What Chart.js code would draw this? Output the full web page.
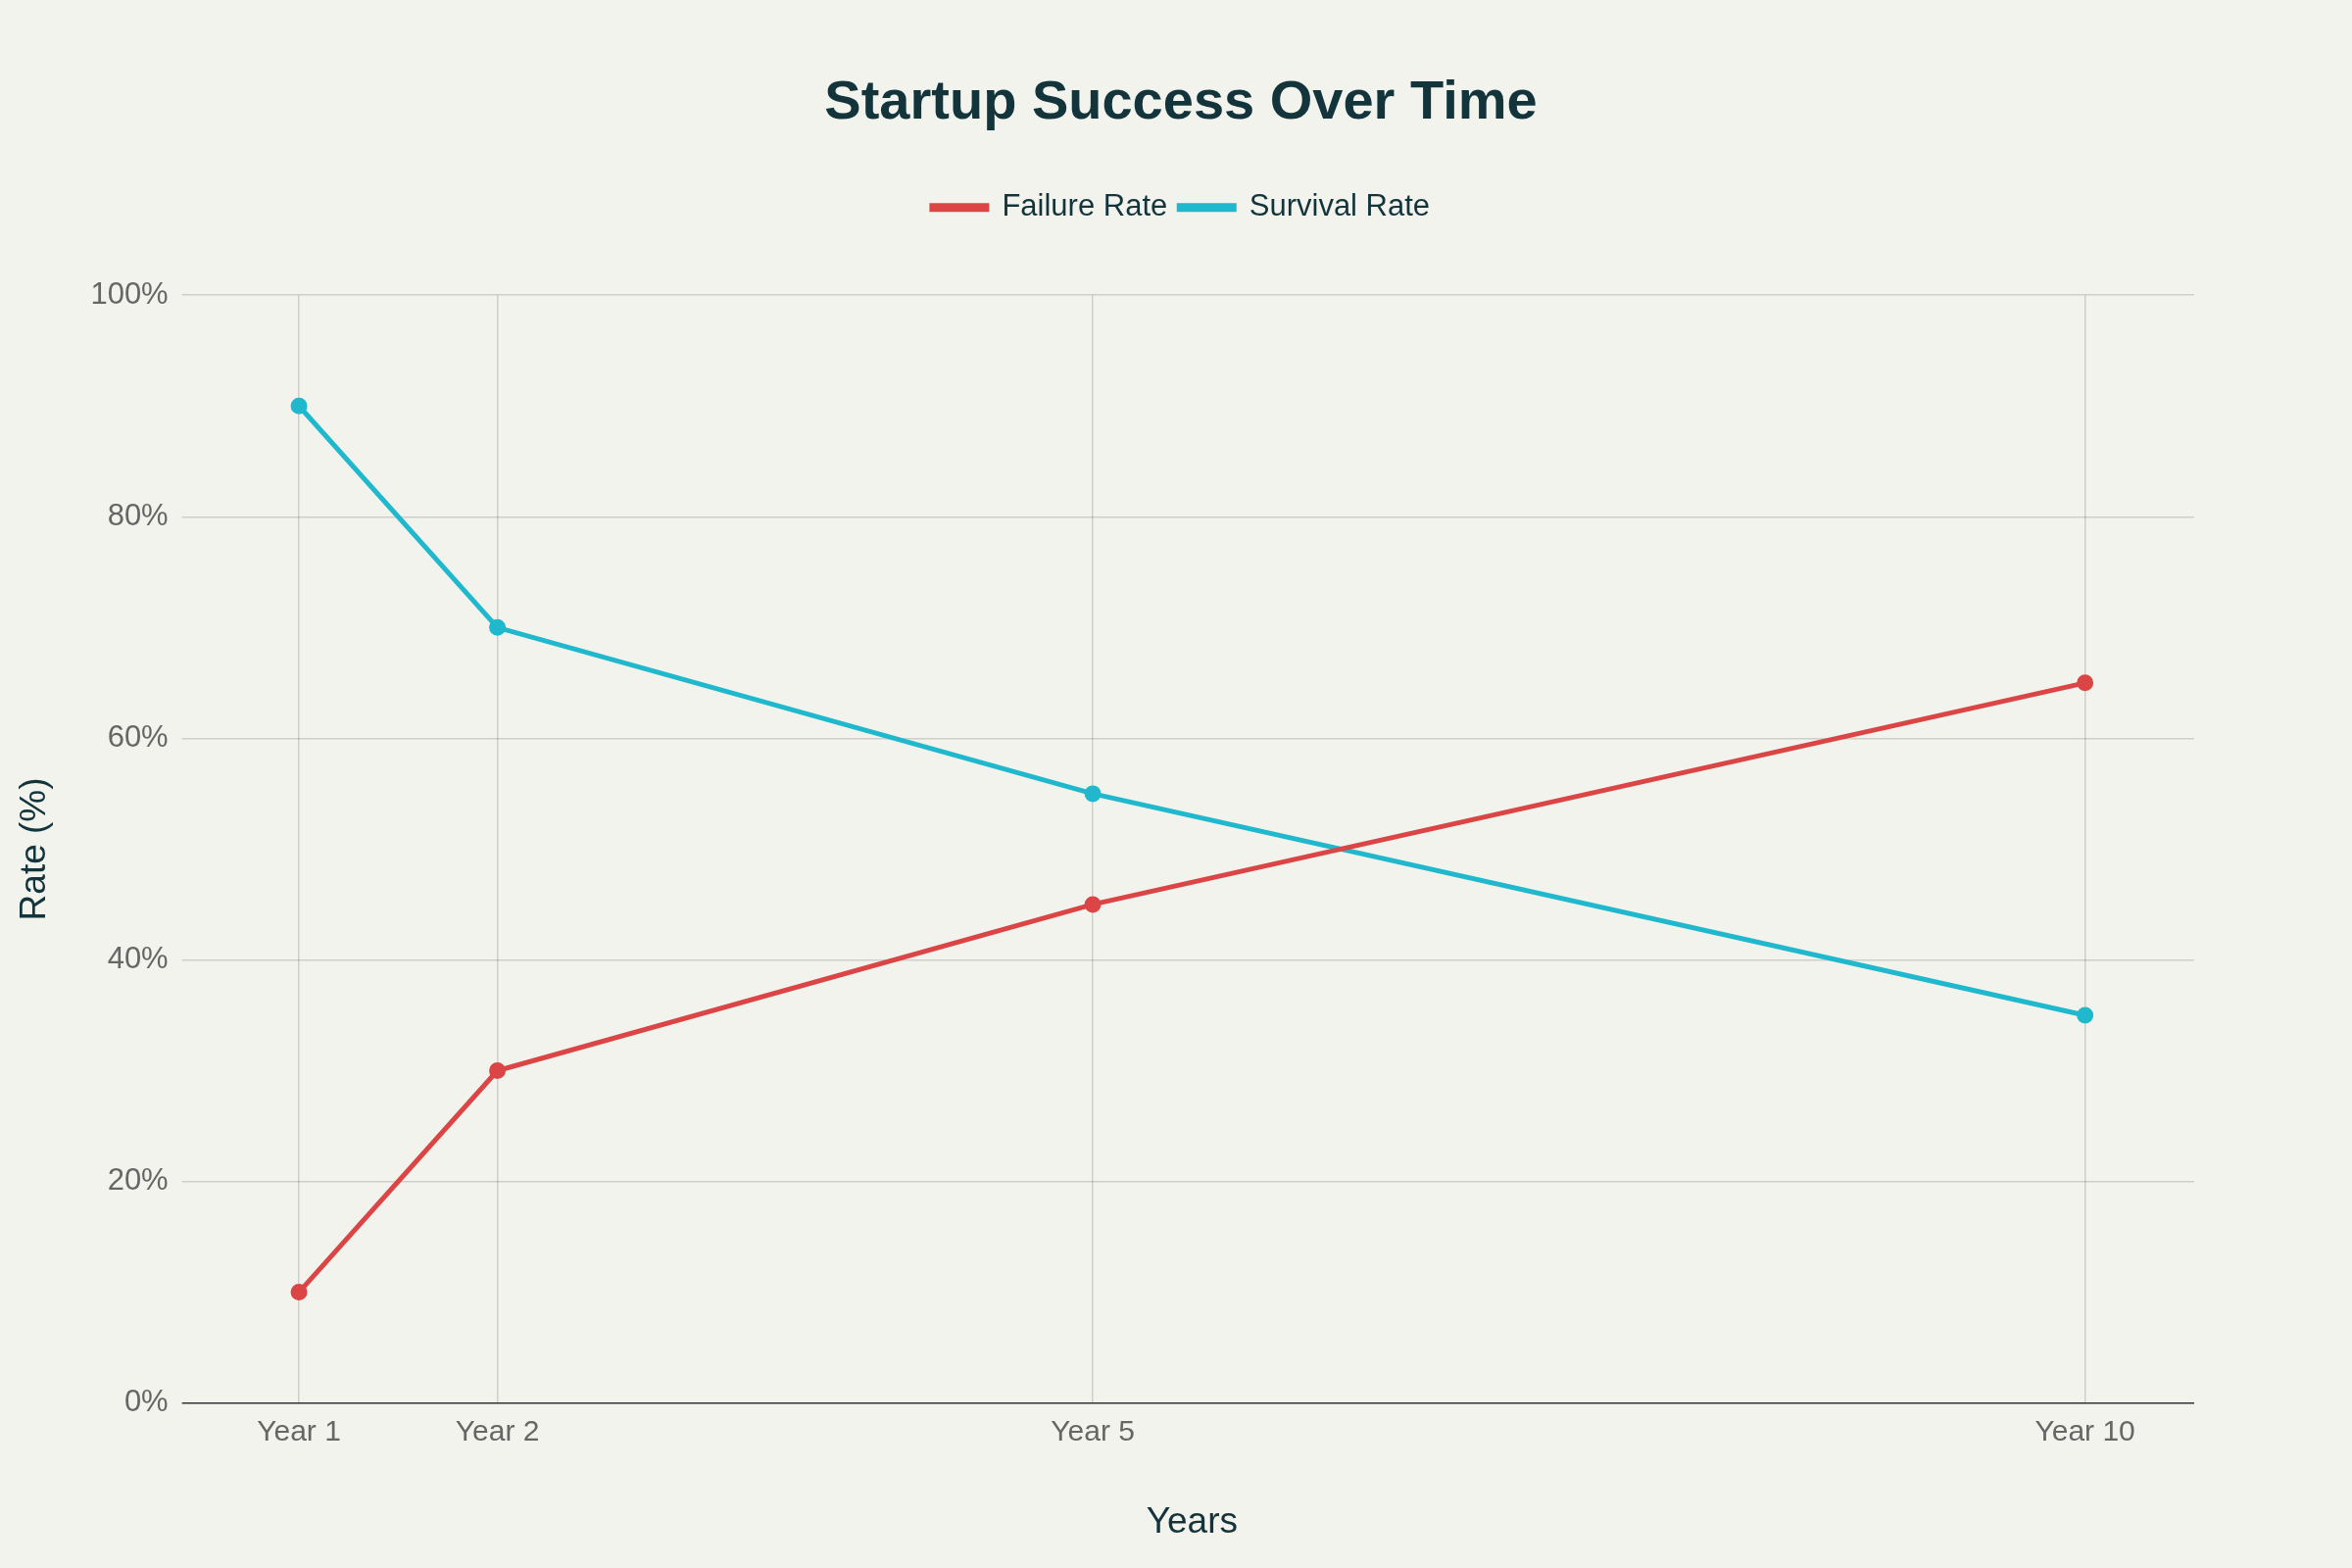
<!DOCTYPE html>
<html><head><meta charset="utf-8">
<script src="https://cdn.jsdelivr.net/npm/chart.js@4"></script>
<style>html,body{margin:0;background:#f3f3ee}#w{width:2400px;height:1600px}</style>
</head><body><div id="w"><canvas id="c"></canvas></div>
<script>
const years=[1,2,5,10];
const yearLabels=['Year 1','Year 2','Year 5','Year 10'];
const failure=[10,30,45,65];
const survival=[90,70,55,35];
const yTicks=[0,20,40,60,80,100];
const font='"Liberation Sans", Arial, sans-serif';
new Chart(document.getElementById('c'),{
type:'line',
data:{datasets:[
{label:'Failure Rate',data:years.map((x,i)=>({x,y:failure[i]})),borderColor:'#db4545',backgroundColor:'#db4545',borderWidth:5,pointRadius:6,pointHoverRadius:6},
{label:'Survival Rate',data:years.map((x,i)=>({x,y:survival[i]})),borderColor:'#1fb8cd',backgroundColor:'#1fb8cd',borderWidth:5,pointRadius:6,pointHoverRadius:6}
]},
options:{responsive:true,maintainAspectRatio:false,animation:false,
layout:{padding:{left:10,right:0,top:52,bottom:20}},
plugins:{
title:{display:true,text:'Startup Success Over Time',color:'#13343b',font:{family:font,size:56,weight:'bold'},padding:{top:20,bottom:45}},
legend:{labels:{color:'#13343b',font:{family:font,size:31},boxWidth:56,boxHeight:4,padding:12},
 afterFit:null,onClick:null},
},
scales:{
x:{type:'linear',min:0.45,max:10.55,
 afterBuildTicks:a=>{a.ticks=years.map(v=>({value:v}));},
 ticks:{callback:v=>yearLabels[years.indexOf(v)],color:'#666',font:{family:font,size:30},padding:12},
 grid:{color:'rgba(0,0,0,0.15)',lineWidth:1.5,drawTicks:false},border:{display:false},
 title:{display:true,text:'Years',color:'#13343b',font:{family:font,size:37},padding:{top:40}}},
y:{min:0,max:100,
 afterBuildTicks:a=>{a.ticks=yTicks.map(v=>({value:v}));},
 ticks:{callback:v=>v+'%',color:'#666',font:{family:font,size:31},padding:14},
 grid:{color:c=>c.tick&&c.tick.value===0?'#333':'rgba(0,0,0,0.15)',lineWidth:1.5,tickLength:8},border:{display:false},
 title:{display:true,text:'Rate (%)',color:'#13343b',font:{family:font,size:37},padding:{bottom:20}}},
r:{position:'right',display:true,min:0,max:100,ticks:{display:false},grid:{display:false,drawOnChartArea:false},border:{display:false},
 afterFit:a=>{a.width=161;}}
}},
plugins:[{id:'legendGap',beforeInit(chart){const orig=chart.legend&&chart.legend.fit;},
 afterInit(chart){const lg=chart.legend;const f=lg.fit.bind(lg);lg.fit=function(){f();this.height+=64;};}}]
});
</script></body></html>
